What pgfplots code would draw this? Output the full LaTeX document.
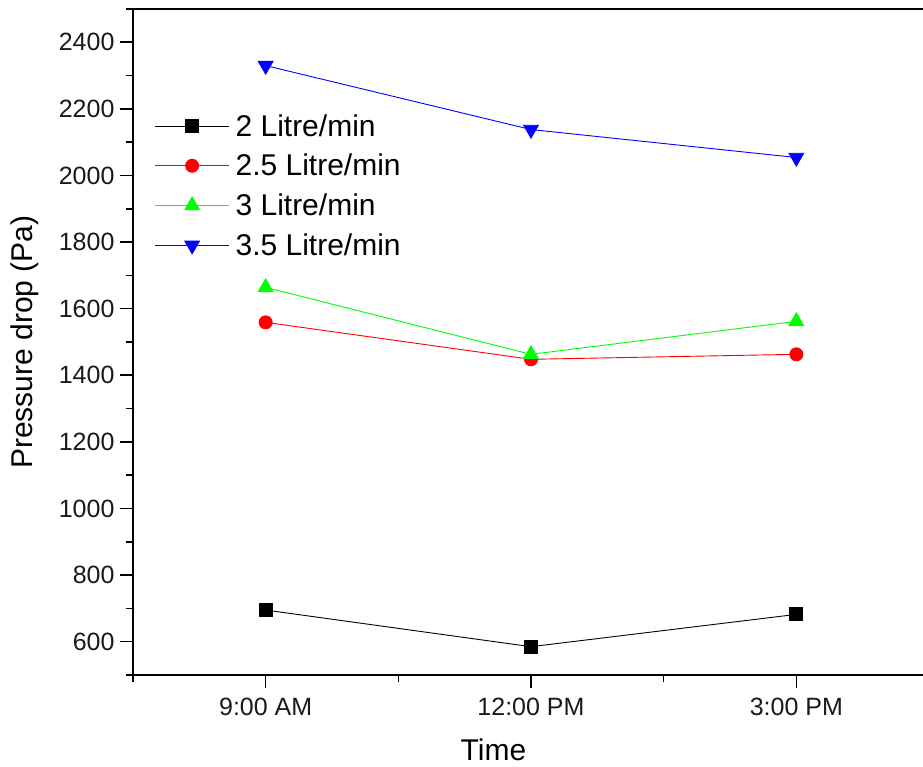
\documentclass[border=0pt]{standalone}
\usepackage{fontspec}
\setmainfont{Liberation Sans}
\usepackage{pgfplots}
\pgfplotsset{compat=1.18}
\definecolor{pR}{RGB}{255,0,0}
\definecolor{pG}{RGB}{0,255,0}
\definecolor{pB}{RGB}{0,0,255}
\begin{document}
\begin{tikzpicture}
\useasboundingbox (-133pt,-92pt) rectangle (790pt,675pt);
\begin{axis}[
  at={(0,0)}, anchor=south west,
  scale only axis, width=796pt, height=666pt,
  xmin=0.5, xmax=3.5, ymin=500, ymax=2500,
  axis x line*=bottom, axis y line*=left,
  axis line style={line width=1.6pt, black},
  xtick={1,2,3}, xticklabels={9:00 AM,12:00 PM,3:00 PM},
  minor xtick={0.5,1.5,2.5,3.5},
  ytick={600,800,...,2400}, minor ytick={500,700,...,2500},
  tick align=outside,
  major tick length=13pt, minor tick length=7pt,
  every tick/.style={black, line width=1.6pt},
  /pgf/number format/assume math mode=true,
  /pgf/number format/1000 sep={},
  tick label style={font=\fontsize{25}{28}\selectfont, text=black!90},
  xticklabel style={yshift=-7pt},
  yticklabel style={xshift=-2pt},
  xlabel={Time}, ylabel={Pressure drop (Pa)},
  x label style={font=\fontsize{30}{34}\selectfont, at={(axis description cs:0.4529,-0.1126)}, anchor=center},
  y label style={font=\fontsize{30}{34}\selectfont, at={(axis description cs:-0.1357,0.5)}, anchor=center},
  legend style={at={(axis description cs:0.027,0.845)}, anchor=north west, draw=none, fill=none,
    font=\fontsize{30}{33}\selectfont, row sep=12.5pt, inner sep=0pt,
    nodes={inner sep=2pt, inner xsep=6pt}},
  legend cell align=left,
  legend image code/.code={\draw[mark repeat=2,mark phase=2,#1] plot coordinates {(0pt,0pt)(37pt,0pt)(74pt,0pt)};},
  every axis plot/.append style={line width=0.9pt},
  clip=false,
]
\addplot[black, mark=square*, mark size=6.5pt, mark options={solid}] coordinates {(1,695)(2,585)(3,682)};
\addlegendentry{2 Litre/min}
\addplot[pR, mark=*, mark size=6.5pt, mark options={solid}] coordinates {(1,1559)(2,1448)(3,1463)};
\addlegendentry{2.5 Litre/min}
\addplot[pG, mark=triangle*, mark size=8.5pt, mark options={solid}] coordinates {(1,1664)(2,1463)(3,1562)};
\addlegendentry{3 Litre/min}
\addplot[pB, mark=triangle*, mark size=8.5pt, mark options={solid, rotate=180}] coordinates {(1,2330)(2,2138)(3,2054)};
\addlegendentry{3.5 Litre/min}
\draw[line width=1.6pt, black] (rel axis cs:0,1) -- (rel axis cs:1,1);
\end{axis}
\end{tikzpicture}
\end{document}
